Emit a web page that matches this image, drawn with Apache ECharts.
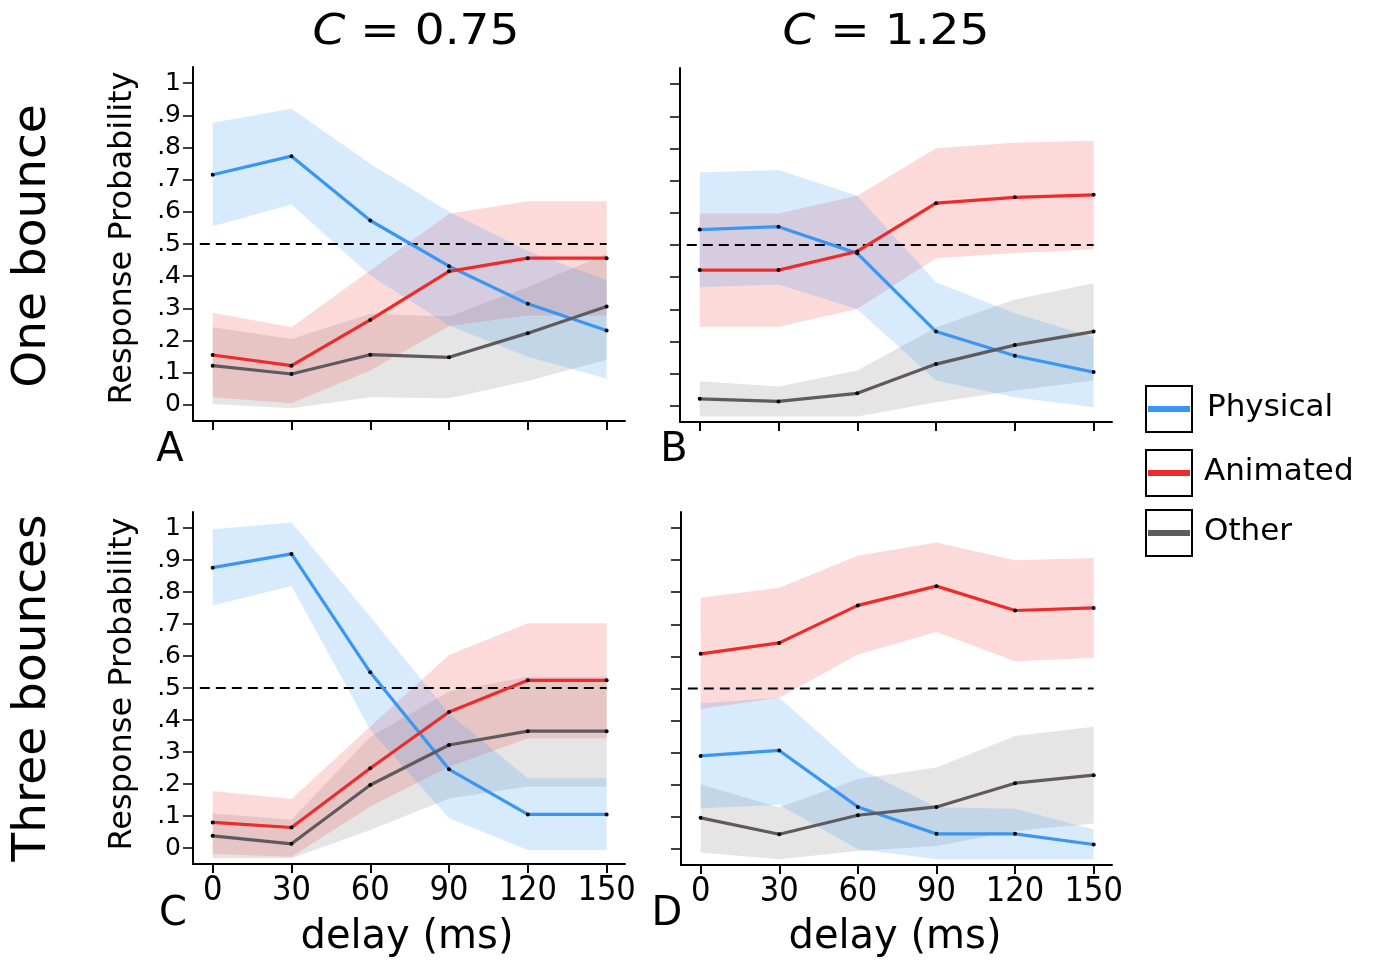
<!DOCTYPE html>
<html>
<head>
<meta charset="utf-8">
<title>Response probability by delay</title>
<script src="https://cdn.jsdelivr.net/npm/echarts@6/dist/echarts.min.js"></script>
<style>
  html, body { margin: 0; padding: 0; background: #fff; }
  #chart { width: 1373px; height: 961px; }
</style>
</head>
<body>
<div id="chart"></div>
<script>
// delays (ms) and axis ticks
var delays = [0, 30, 60, 90, 120, 150];
var yTicks = [0, 0.1, 0.2, 0.3, 0.4, 0.5, 0.6, 0.7, 0.8, 0.9, 1];
var chance = 0.5;

// A: one bounce, C = 0.75
var physA    = [0.715, 0.773, 0.573, 0.431, 0.314, 0.231];
var physLoA  = [0.555, 0.623, 0.402, 0.247, 0.150, 0.081];
var physHiA  = [0.877, 0.920, 0.749, 0.600, 0.478, 0.387];
var animA    = [0.155, 0.122, 0.264, 0.415, 0.456, 0.456];
var animLoA  = [0.024, 0.005, 0.107, 0.245, 0.278, 0.278];
var animHiA  = [0.286, 0.241, 0.418, 0.594, 0.633, 0.633];
var otherA   = [0.122, 0.096, 0.156, 0.148, 0.223, 0.306];
var otherLoA = [0.003, -0.010, 0.024, 0.021, 0.074, 0.140];
var otherHiA = [0.241, 0.205, 0.283, 0.275, 0.366, 0.469];

// B: one bounce, C = 1.25
var physB    = [0.548, 0.557, 0.474, 0.231, 0.156, 0.105];
var physLoB  = [0.369, 0.377, 0.300, 0.079, 0.027, -0.004];
var physHiB  = [0.725, 0.733, 0.653, 0.384, 0.288, 0.213];
var animB    = [0.422, 0.422, 0.480, 0.630, 0.648, 0.656];
var animLoB  = [0.246, 0.246, 0.301, 0.459, 0.475, 0.486];
var animHiB  = [0.598, 0.598, 0.653, 0.801, 0.818, 0.824];
var otherB   = [0.022, 0.014, 0.039, 0.130, 0.189, 0.231];
var otherLoB = [-0.033, -0.033, -0.033, 0.011, 0.048, 0.079];
var otherHiB = [0.077, 0.060, 0.110, 0.244, 0.331, 0.381];

// C: three bounces, C = 0.75
var physC    = [0.876, 0.919, 0.549, 0.246, 0.105, 0.105];
var physLoC  = [0.758, 0.819, 0.369, 0.093, -0.006, -0.006];
var physHiC  = [0.996, 1.017, 0.723, 0.420, 0.218, 0.218];
var animC    = [0.080, 0.064, 0.249, 0.425, 0.524, 0.524];
var animLoC  = [-0.019, -0.027, 0.130, 0.254, 0.343, 0.343];
var animHiC  = [0.178, 0.153, 0.380, 0.603, 0.702, 0.702];
var otherC   = [0.038, 0.013, 0.197, 0.322, 0.365, 0.365];
var otherLoC = [-0.032, -0.032, 0.056, 0.155, 0.192, 0.192];
var otherHiC = [0.108, 0.088, 0.348, 0.489, 0.535, 0.535];

// D: three bounces, C = 1.25
var physD    = [0.290, 0.307, 0.131, 0.047, 0.047, 0.014];
var physLoD  = [0.127, 0.138, -0.001, -0.032, -0.032, -0.032];
var physHiD  = [0.454, 0.471, 0.254, 0.130, 0.125, 0.061];
var animD    = [0.608, 0.642, 0.759, 0.819, 0.743, 0.751];
var animLoD  = [0.436, 0.471, 0.606, 0.676, 0.585, 0.595];
var animHiD  = [0.783, 0.814, 0.914, 0.955, 0.900, 0.907];
var otherD   = [0.097, 0.046, 0.105, 0.131, 0.205, 0.230];
var otherLoD = [-0.011, -0.032, -0.006, 0.009, 0.056, 0.079];
var otherHiD = [0.202, 0.129, 0.218, 0.254, 0.352, 0.381];

var names = ['Physical', 'Animated', 'Other'];

// colours
var lineCol = { Physical: '#3a96f0', Animated: '#ee2b2b', Other: '#5f5a5e' };
var bandCol = {
  Physical: 'rgba(60,155,245,0.2)',
  Animated: 'rgba(240,60,60,0.19)',
  Other: 'rgba(110,110,110,0.18)'
};
var FONT = 'DejaVu Sans, Verdana, sans-serif';
var NARROW = 'DejaVu Sans Condensed, Liberation Sans Narrow, DejaVu Sans, sans-serif';

var panels = [
  { grid: { left: 193, top: 67, width: 432, height: 354 }, yLab: true,  xLab: false,
    mean: [physA, animA, otherA], lo: [physLoA, animLoA, otherLoA], hi: [physHiA, animHiA, otherHiA] },
  { grid: { left: 680, top: 68, width: 432, height: 354 }, yLab: false, xLab: false,
    mean: [physB, animB, otherB], lo: [physLoB, animLoB, otherLoB], hi: [physHiB, animHiB, otherHiB] },
  { grid: { left: 193, top: 512, width: 432, height: 352 }, yLab: true,  xLab: true,
    mean: [physC, animC, otherC], lo: [physLoC, animLoC, otherLoC], hi: [physHiC, animHiC, otherHiC] },
  { grid: { left: 681, top: 512, width: 431, height: 353 }, yLab: false, xLab: true,
    mean: [physD, animD, otherD], lo: [physLoD, animLoD, otherLoD], hi: [physHiD, animHiD, otherHiD] }
];

function yLabel(v) {
  if (v === 0) return '0';
  if (v === 1) return '1';
  return String(v).slice(1);
}

function bandSeries(idx, lo, hi, color) {
  return {
    type: 'custom', xAxisIndex: idx, yAxisIndex: idx, z: 1, silent: true,
    data: delays.map(function (d, i) { return [d, lo[i], hi[i]]; }),
    encode: { x: 0, y: [1, 2] },
    renderItem: function (params, api) {
      if (params.dataIndex !== 0) return null;
      var top = [], bot = [];
      for (var i = 0; i < delays.length; i++) {
        top.push(api.coord([delays[i], hi[i]]));
        bot.unshift(api.coord([delays[i], lo[i]]));
      }
      return { type: 'polygon', shape: { points: top.concat(bot) }, style: { fill: color } };
    }
  };
}

var grids = [], xAxes = [], yAxes = [], series = [];
panels.forEach(function (p, idx) {
  grids.push(p.grid);
  xAxes.push({
    type: 'value', gridIndex: idx, min: -7.5, max: 157,
    axisLine: { show: true, onZero: false, lineStyle: { color: '#000', width: 2 } },
    axisTick: { show: true, customValues: delays, length: 9, lineStyle: { color: '#000', width: 2 } },
    axisLabel: { show: p.xLab, customValues: delays, fontSize: 34, fontFamily: NARROW, color: '#000', margin: 10 },
    splitLine: { show: false }
  });
  yAxes.push({
    type: 'value', gridIndex: idx, min: -0.05, max: 1.05,
    axisLine: { show: true, onZero: false, lineStyle: { color: '#000', width: 2 } },
    axisTick: { show: true, customValues: yTicks, length: 10, lineStyle: { color: '#000', width: 1.5 } },
    axisLabel: { show: p.yLab, customValues: yTicks, formatter: yLabel, fontSize: 25, fontFamily: FONT, color: '#000', margin: 12 },
    splitLine: { show: false }
  });
  // confidence bands
  [2, 1, 0].forEach(function (k) {
    series.push(bandSeries(idx, p.lo[k], p.hi[k], bandCol[names[k]]));
  });
  // chance line
  series.push({
    type: 'line', xAxisIndex: idx, yAxisIndex: idx, z: 2, clip: false, silent: true,
    data: [[-11, chance], [delays[delays.length - 1], chance]],
    symbol: 'none', lineStyle: { color: '#000', width: 2, type: [10, 6] }
  });
  // mean lines
  [0, 1, 2].forEach(function (k) {
    series.push({
      type: 'line', name: names[k], xAxisIndex: idx, yAxisIndex: idx, z: 3,
      data: delays.map(function (d, i) { return [d, p.mean[k][i]]; }),
      lineStyle: { width: 3.2, color: lineCol[names[k]] },
      itemStyle: { color: '#000' },
      symbol: 'circle', symbolSize: 4, showSymbol: true
    });
  });
});

function txt(x, y, text, size, extra) {
  var el = {
    type: 'text', x: x, y: y,
    style: { text: text, fontSize: size, fontFamily: FONT, fill: '#000',
             align: 'center', verticalAlign: 'middle', textAlign: 'center', textVerticalAlign: 'middle' }
  };
  if (extra) for (var k in extra) el[k] = extra[k];
  return el;
}

var graphics = [
  txt(416, 33, '{i|C} = 0.75', 42, { scaleX: 1.12 }),
  txt(886, 33, '{i|C} = 1.25', 42, { scaleX: 1.12 }),
  txt(33, 246, 'One bounce', 47, { rotation: Math.PI / 2 }),
  txt(33, 688, 'Three bounces', 47, { rotation: Math.PI / 2 }),
  txt(123, 238, 'Response Probability', 32, { rotation: Math.PI / 2 }),
  txt(123, 684, 'Response Probability', 32, { rotation: Math.PI / 2 }),
  txt(170, 451, 'A', 40),
  txt(674, 451, 'B', 40),
  txt(173, 915, 'C', 40),
  txt(667, 915, 'D', 40),
  txt(407, 938, 'delay (ms)', 40),
  txt(895, 938, 'delay (ms)', 40)
];
graphics[0].style.rich = { i: { fontStyle: 'italic', fontSize: 42, fontFamily: FONT } };
graphics[1].style.rich = { i: { fontStyle: 'italic', fontSize: 42, fontFamily: FONT } };

// legend boxes
var legendTop = [386, 450, 510];
var legendTextX = [1207, 1204, 1204];
names.forEach(function (n, i) {
  var y0 = legendTop[i];
  graphics.push({ type: 'rect', shape: { x: 1146, y: y0, width: 46, height: 46 },
                  style: { fill: '#fff', stroke: '#000', lineWidth: 2 } });
  graphics.push({ type: 'line', shape: { x1: 1148, y1: y0 + 23, x2: 1190, y2: y0 + 23 },
                  style: { stroke: lineCol[n], lineWidth: 6 } });
  var t = txt(legendTextX[i], y0 + 22, n, 31);
  t.style.align = 'left'; t.style.textAlign = 'left';
  graphics.push(t);
});

var chart = echarts.init(document.getElementById('chart'));
chart.setOption({
  backgroundColor: '#fff',
  animation: false,
  grid: grids,
  xAxis: xAxes,
  yAxis: yAxes,
  series: series,
  graphic: graphics
});
</script>
</body>
</html>
